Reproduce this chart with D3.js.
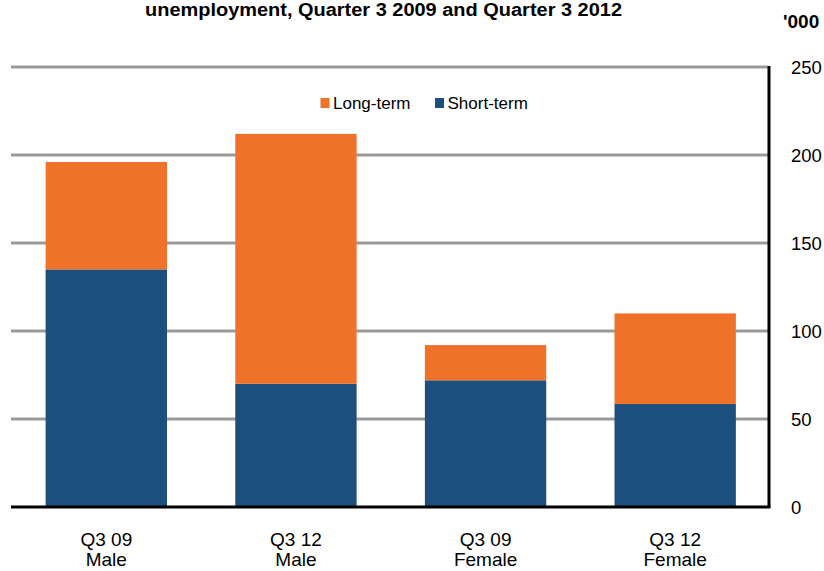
<!DOCTYPE html>
<html><head><meta charset="utf-8">
<script src="https://cdn.jsdelivr.net/npm/d3@7"></script>
<style>body{margin:0;background:#fff}svg{display:block}text{font-family:"Liberation Sans",Arial,sans-serif}</style>
</head><body>
<script>
const categories = [["Q3 09","Male"],["Q3 12","Male"],["Q3 09","Female"],["Q3 12","Female"]];
const shortTerm = [135, 70, 72, 58.5];
const longTerm = [61, 142, 20, 51.5];
const yTicks = [0, 50, 100, 150, 200, 250];
const seriesNames = ["Long-term", "Short-term"];
const colors = {"Long-term":"#F0722A","Short-term":"#1D4F7C"};
const titleText = "unemployment, Quarter 3 2009 and Quarter 3 2012";
const unitLabel = "'000";

const W = 824, H = 571;
const svg = d3.select("body").append("svg").attr("width", W).attr("height", H);

const keys = categories.map(c => c.join(" "));
const x = d3.scaleBand().domain(keys).range([11.5, 770]).paddingInner(0.36).paddingOuter(0.18);
const y = d3.scaleLinear().domain([0, 250]).range([507, 67]);

// gridlines
svg.append("g").selectAll("line").data(yTicks.filter(t => t > 0)).join("line")
  .attr("x1", 11).attr("x2", 768).attr("y1", d => y(d)).attr("y2", d => y(d))
  .attr("stroke", "#9a9a9a").attr("stroke-width", 3);

// stacked bars
const rows = keys.map((k, i) => ({key: k, "Short-term": shortTerm[i], "Long-term": longTerm[i]}));
const stack = d3.stack().keys(["Short-term", "Long-term"])(rows);
svg.append("g").selectAll("g").data(stack).join("g")
  .attr("fill", d => colors[d.key])
  .selectAll("rect").data(d => d).join("rect")
  .attr("x", d => x(d.data.key)).attr("width", x.bandwidth())
  .attr("y", d => y(d[1])).attr("height", d => y(d[0]) - y(d[1]));

// axes lines
svg.append("line").attr("x1", 11).attr("x2", 770.5).attr("y1", y(0)).attr("y2", y(0))
  .attr("stroke", "#000").attr("stroke-width", 3);
svg.append("line").attr("x1", 769).attr("x2", 769).attr("y1", y(250) - 1).attr("y2", y(0))
  .attr("stroke", "#000").attr("stroke-width", 3);

// right axis labels via d3 axis
const yAxis = d3.axisRight(y).tickValues(yTicks).tickSize(0).tickPadding(0).tickFormat(d3.format("d"));
const ya = svg.append("g").attr("transform", "translate(791,0)").call(yAxis);
ya.select(".domain").remove();
ya.selectAll("text").attr("font-size", 18.5).attr("fill", "#000")
  .attr("font-family", "'Liberation Sans',Arial,sans-serif").attr("dy", "0.35em").attr("x", 0);

// unit label
svg.append("text").attr("x", 783).attr("y", 28).attr("font-size", 19).attr("font-weight", "bold").text(unitLabel);

// category labels
const cg = svg.append("g").selectAll("text").data(categories).join("text")
  .attr("text-anchor", "middle").attr("font-size", 19).attr("fill", "#000")
  .attr("transform", (d, i) => `translate(${x(keys[i]) + x.bandwidth() / 2},0)`);
cg.append("tspan").attr("x", 0).attr("y", 546).text(d => d[0]);
cg.append("tspan").attr("x", 0).attr("y", 566).text(d => d[1]);

// title
svg.append("text").attr("x", 383.5).attr("y", 15.5).attr("text-anchor", "middle")
  .attr("font-size", 17.5).attr("font-weight", "bold")
  .attr("textLength", 477).attr("lengthAdjust", "spacingAndGlyphs").text(titleText);

// legend
const legX = [320.5, 435];
const lg = svg.append("g").selectAll("g").data(seriesNames).join("g")
  .attr("transform", (d, i) => `translate(${legX[i]},98)`);
lg.append("rect").attr("width", 9).attr("height", 10).attr("fill", d => colors[d]);
lg.append("text").attr("x", 12.5).attr("y", 11).attr("font-size", 17).attr("fill", "#000").text(d => d);
</script>
</body></html>
